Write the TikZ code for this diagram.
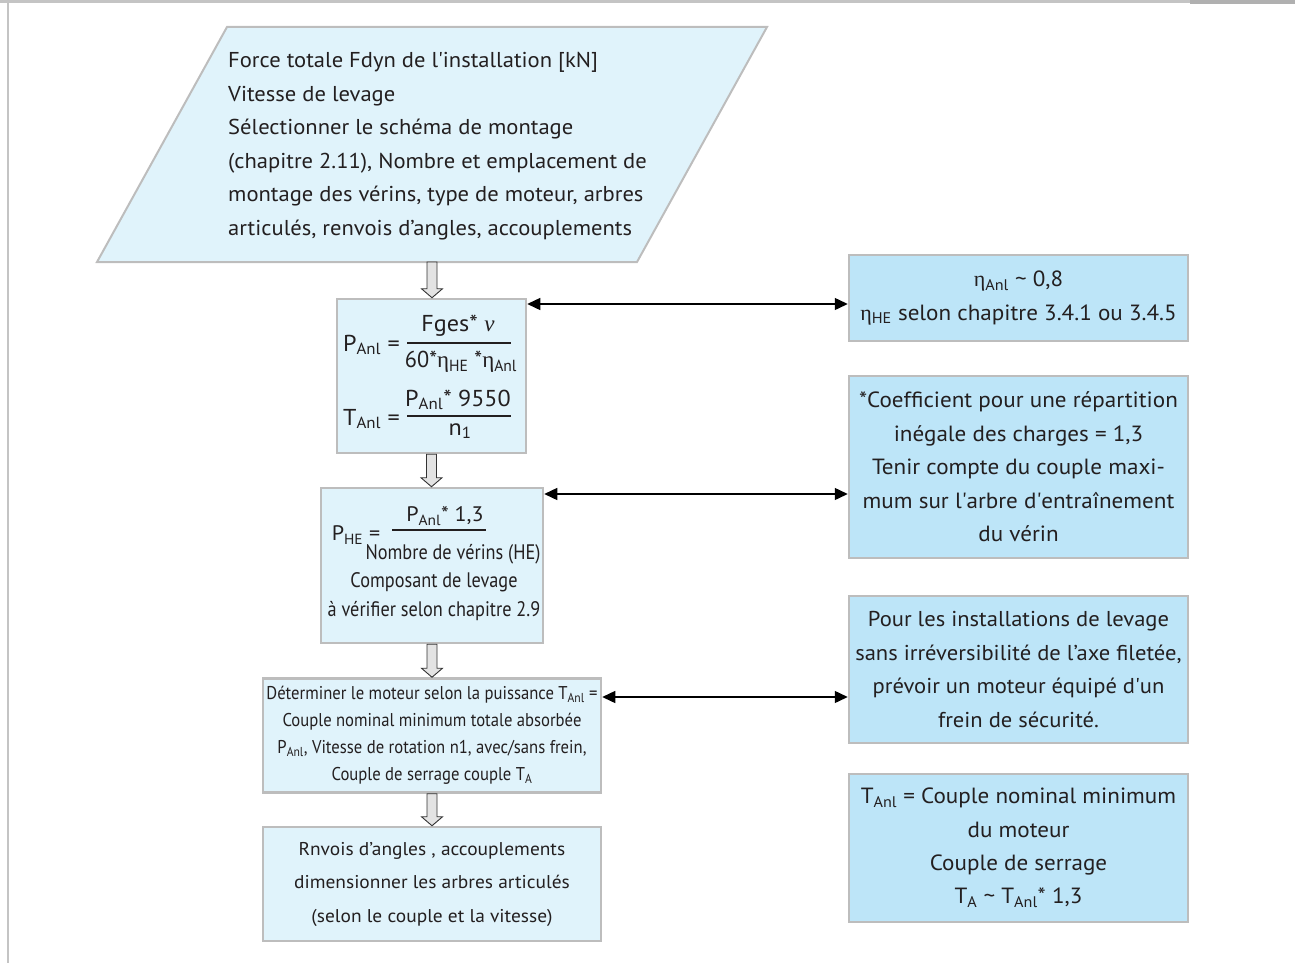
\documentclass[tikz,border=0pt]{standalone}
\usepackage{fontspec}
\usepackage{amsmath}
\setmainfont{PT Sans}[FakeStretch=1.05]
\newfontfamily\grk{Liberation Serif}
\newfontfamily\condf[FakeStretch=0.87]{PT Sans}
\newfontfamily\condg[FakeStretch=0.90]{PT Sans}
\newfontfamily\condh[FakeStretch=0.97]{PT Sans}
\usetikzlibrary{arrows.meta,calc}
\definecolor{pale}{HTML}{E0F3FB}
\definecolor{cyanbox}{HTML}{BDE5F8}
\definecolor{bord}{HTML}{BDBDBD}
\definecolor{txt}{HTML}{231F20}
\definecolor{framec}{HTML}{C4C4C4}
\newcommand\sbx[1]{\textsubscript{#1}}
\newcommand\heta{{\grk η}}
\newcommand\hnu{{\grk\itshape ν}}
\newcommand\sq{\textquotesingle}
\begin{document}
\begin{tikzpicture}[x=1pt,y=-1pt,
  leftbox/.style={draw=bord, line width=2.5pt, fill=pale, inner sep=0pt, text=txt},
  rightbox/.style={draw=bord, line width=2.5pt, fill=cyanbox, align=center, text=txt, inner sep=0pt,
    font=\fontsize{22}{33.4}\selectfont},
  txtn/.style={text=txt, inner sep=0pt},
  frm/.style={font=\fontsize{23}{28}\selectfont},
  barline/.style={draw=txt, line width=1.2pt},
  blockarr/.style={draw=black!80, fill=gray!22, line width=0.9pt,
    to path={let \p1=(\tikztostart), \p2=(\tikztotarget) in
      (\x1-5pt,\y1) -- (\x1-5pt,\y2+9pt) -- (\x1-10.5pt,\y2+9pt) -- (\x1,\y2)
      -- (\x1+10.5pt,\y2+9pt) -- (\x1+5pt,\y2+9pt) -- (\x1+5pt,\y1) -- cycle}},
  dbl/.style={{Triangle[length=13pt,width=12pt]}-{Triangle[length=13pt,width=12pt]},
    line width=1.4pt, draw=black}
]
\useasboundingbox (0,0) rectangle (1295,963);
% frame
\draw[framec, line width=3pt] (0,2) -- (1295,2);
\draw[framec!90!black, line width=4pt] (1190,2.5) -- (1295,2.5);
\draw[framec, line width=2pt] (7.5,2) -- (7.5,963);

% parallelogram
\node[minimum width=670pt, minimum height=235pt, inner sep=0pt, outer sep=0pt] (p) at (432,144.5) {};
\draw[draw=bord, line width=2pt, fill=pale]
  ($(p.north west)+(130pt,0)$) -- (p.north east) -- ($(p.south east)+(-130pt,0)$) -- (p.south west) -- cycle;
\node[txtn, anchor=north west, align=left, font=\fontsize{21.5}{33.6}\selectfont] (ptxt) at (228,52) {%
Force totale Fdyn de l\sq installation [kN]\\
Vitesse de levage\\
Sélectionner le schéma de montage\\
(chapitre 2.11), Nombre et emplacement de\\
montage des vérins, type de moteur, arbres\\
articulés, renvois d’angles, accouplements};

% left boxes
\node[leftbox, minimum width=189pt, minimum height=154pt] (b1) at (431.5,376) {};
\node[leftbox, minimum width=222pt, minimum height=155pt] (b2) at (432,565.5) {};
\node[leftbox, minimum width=338pt, minimum height=114pt, align=center,
  font=\condg\fontsize{18.5}{27}\selectfont] (b3) at (432,735.5) {%
Déterminer le moteur selon la puissance T\sbx{Anl} =\\
Couple nominal minimum totale absorbée\\
P\sbx{Anl}, Vitesse de rotation n1, avec/sans frein,\\
Couple de serrage couple T\sbx{A}};
\node[leftbox, minimum width=338pt, minimum height=114pt, align=center,
  font=\fontsize{18.5}{33.5}\selectfont] (b4) at (432,884) {%
Rnvois d’angles , accouplements\\
dimensionner les arbres articulés\\
(selon le couple et la vitesse)};

% formula box 1
\node[txtn, frm, anchor=east] (f1l) at (400,345) {P\sbx{Anl} =};
\draw[barline] (407,343) -- (511,343);
\node[txtn, frm] (f1n) at (458,326) {Fges* \hnu};
\node[txtn, font=\condh\fontsize{23}{28}\selectfont] (f1d) at (461,362) {60*\heta\sbx{HE} *\heta\sbx{Anl}};
\node[txtn, frm, anchor=east] (f2l) at (400,419) {T\sbx{Anl} =};
\draw[barline] (407,416) -- (511,416);
\node[txtn, frm] (f2n) at (458,400) {P\sbx{Anl}* 9550};
\node[txtn, frm] (f2d) at (460,431) {n\sbx{1}};

% formula box 2
\node[txtn, font=\fontsize{21}{24}\selectfont] (g1l) at (356,535) {P\sbx{HE} =};
\draw[barline] (392,530) -- (486,530);
\node[txtn, font=\fontsize{21}{24}\selectfont] (g1n) at (445,516) {P\sbx{Anl}* 1,3};
\node[txtn, font=\condf\fontsize{21}{24}\selectfont] (g1d) at (453,554) {Nombre de vérins (HE)};
\node[txtn, font=\condf\fontsize{21}{29}\selectfont, align=center] (g2) at (434,597) {%
Composant de levage\\
à vérifier selon chapitre 2.9};

% right boxes
\node[rightbox, minimum width=339pt, minimum height=86pt] (r1) at (1018.5,298) {%
\heta\sbx{Anl} \textasciitilde{} 0,8\\
\heta\sbx{HE} selon chapitre 3.4.1 ou 3.4.5};
\node[rightbox, minimum width=339pt, minimum height=182pt] (r2) at (1018.5,467) {%
*Coefficient pour une répartition\\
inégale des charges = 1,3\\
Tenir compte du couple maxi-\\
mum sur l\sq arbre d\sq entraînement\\
du vérin};
\node[rightbox, minimum width=339pt, minimum height=147pt, font=\fontsize{21.5}{33.4}\selectfont] (r3) at (1018.5,669.5) {%
Pour les installations de levage\\
sans irréversibilité de l’axe filetée,\\
prévoir un moteur équipé d\sq un\\
frein de sécurité.};
\node[rightbox, minimum width=339pt, minimum height=148pt] (r4) at (1018.5,848) {%
T\sbx{Anl} = Couple nominal minimum\\
du moteur\\
Couple de serrage\\
T\sbx{A} \textasciitilde{} T\sbx{Anl}* 1,3};

% block arrows
\draw[blockarr] (p.south) to (b1.north);
\draw[blockarr] (b1.south) to (b2.north);
\draw[blockarr] (b2.south) to (b3.north);
\draw[blockarr] (b3.south) to (b4.north);

% double arrows
\draw[dbl] (b1.east |- 0,304) -- (r1.west |- 0,304);
\draw[dbl] (b2.east |- 0,494) -- (r2.west |- 0,494);
\draw[dbl] (b3.east |- 0,697) -- (r3.west |- 0,697);
\end{tikzpicture}
\end{document}
